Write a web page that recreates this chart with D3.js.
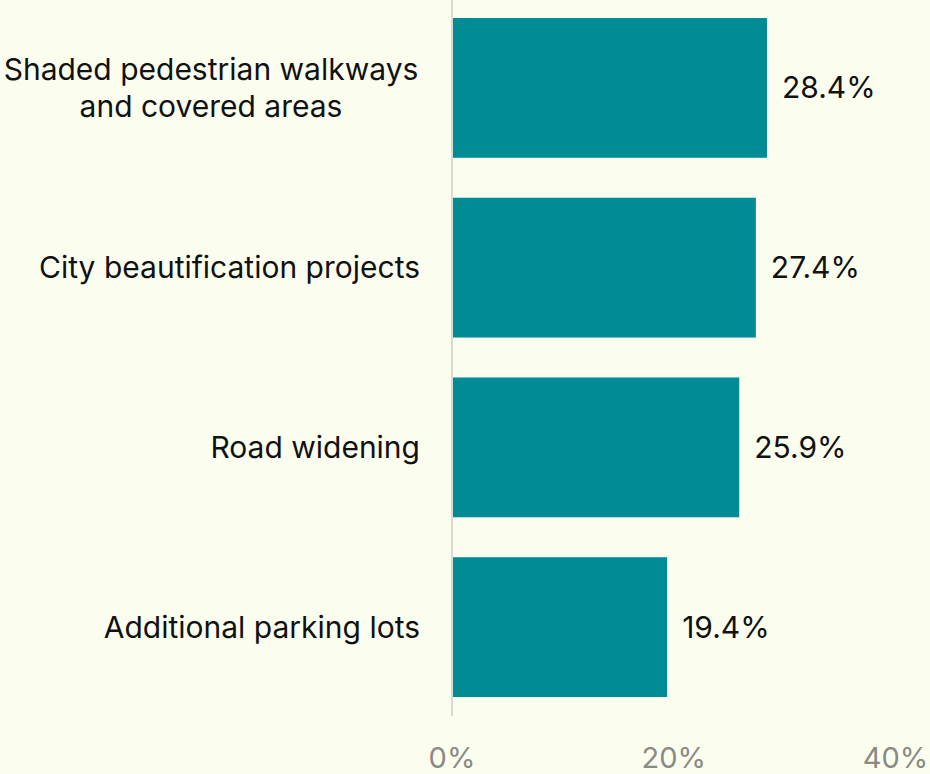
<!DOCTYPE html>
<html>
<head>
<meta charset="utf-8">
<script src="https://cdn.jsdelivr.net/npm/d3@7"></script>
<style>
  html, body { margin: 0; padding: 0; background: #fbfeee; }
  svg { display: block; font-family: Inter, "Noto Sans", sans-serif; }
</style>
</head>
<body>
<div id="content"></div>
<script>
const categories = [
  ["Shaded pedestrian walkways", "and covered areas"],
  ["City beautification projects"],
  ["Road widening"],
  ["Additional parking lots"]
];
const values = [28.4, 27.4, 25.9, 19.4];
const tickValues = [0, 20, 40];

const w = 930, h = 774;
const x0 = 452;
const fontSize = 30;

const svg = d3.select("#content").append("svg").attr("width", w).attr("height", h);

const xScale = d3.scaleLinear().domain([0, 40]).range([x0, x0 + 443.6]);
const yScale = d3.scaleBand().domain(d3.range(values.length))
  .range([-2, 717]).paddingInner(40 / 180).paddingOuter(20 / 180);

// axis line
svg.append("line")
  .attr("x1", x0).attr("x2", x0)
  .attr("y1", 0).attr("y2", 716)
  .attr("stroke", "#d9d9d4").attr("stroke-width", 2);

svg.selectAll("rect.bar").data(values).enter().append("rect")
  .attr("class", "bar")
  .attr("x", xScale(0) + 1)
  .attr("y", (d, i) => yScale(i))
  .attr("width", d => xScale(d) - xScale(0) - 1)
  .attr("height", yScale.bandwidth())
  .attr("fill", "#008b95");

svg.selectAll("text.val").data(values).enter().append("text")
  .attr("class", "val")
  .attr("x", d => xScale(d) + 15)
  .attr("y", (d, i) => yScale(i) + yScale.bandwidth() / 2)
  .attr("dy", "0.35em")
  .attr("font-size", fontSize)
  .attr("fill", "#111")
  .text(d => d.toFixed(1) + "%");

// category labels: one-line labels end at x=420, the two-line one is centred on its block
const lab = svg.selectAll("text.cat").data(categories).enter().append("text")
  .attr("class", "cat")
  .attr("font-size", fontSize)
  .attr("fill", "#111")
  .attr("text-anchor", d => d.length > 1 ? "middle" : "end")
  .attr("transform", (d, i) => `translate(${d.length > 1 ? 211 : 420},${yScale(i) + yScale.bandwidth() / 2})`);

lab.each(function (d) {
  const t = d3.select(this);
  const n = d.length;
  d.forEach((line, j) => {
    t.append("tspan")
      .attr("x", 0)
      .attr("y", (j - (n - 1) / 2) * 37)
      .attr("dy", "0.35em")
      .text(line);
  });
});

svg.selectAll("text.tick").data(tickValues).enter().append("text")
  .attr("class", "tick")
  .attr("x", d => xScale(d))
  .attr("y", 768)
  .attr("text-anchor", "middle")
  .attr("font-size", 29)
  .attr("fill", "#8a8a85")
  .text(d => d + "%");
</script>
</body>
</html>
